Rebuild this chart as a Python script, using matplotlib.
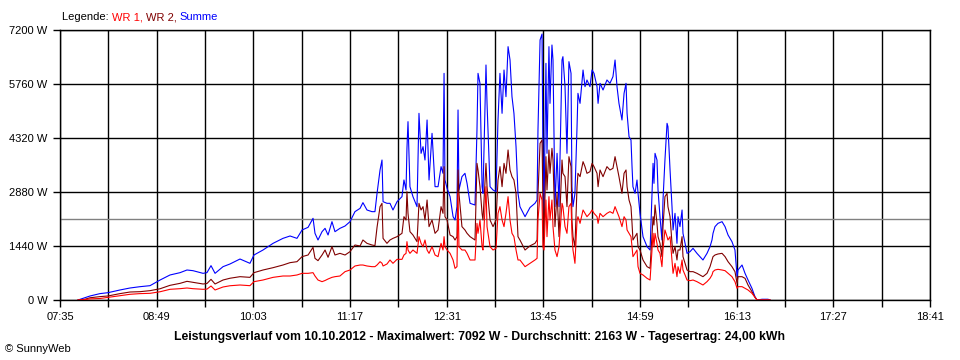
import matplotlib
matplotlib.use("Agg")
import matplotlib.pyplot as plt

plt.rcParams["font.family"] = ["Liberation Sans", "DejaVu Sans"]

# Zeitpunkte (Minuten seit Mitternacht) und Leistung in W
minutes = [
    468.8, 474.1, 478.0, 485.6, 491.7, 500.9, 508.6, 516.2, 523.9, 531.6,
    539.2, 546.9, 552.2, 556.8, 564.5, 567.5, 570.6, 573.7, 579.8, 585.1,
    592.8, 600.4, 603.5, 610.4, 618.1, 625.7, 631.1, 636.4, 640.3, 644.9,
    648.7, 650.2, 652.5, 655.6, 657.9, 660.2, 663.2, 665.5, 669.3, 673.2,
    677.0, 680.8, 684.7, 686.9, 690.0, 693.8, 696.1, 697.7, 700.0, 701.5,
    702.3, 705.3, 707.6, 709.9, 713.0, 716.8, 718.3, 719.9, 720.6, 721.4,
    722.9, 725.2, 728.3, 729.8, 731.4, 732.9, 734.4, 736.0, 737.5, 739.8,
    742.1, 744.4, 746.7, 748.2, 749.0, 749.7, 751.3, 753.6, 755.9, 757.4,
    758.9, 759.7, 760.4, 762.7, 765.0, 766.6, 768.9, 772.7, 774.2, 775.0,
    776.5, 778.1, 778.8, 781.1, 781.9, 784.2, 786.5, 788.8, 790.3, 791.8,
    793.4, 794.9, 796.4, 798.0, 799.5, 801.0, 802.5, 804.1, 805.6, 807.1,
    811.0, 814.8, 818.6, 820.2, 820.9, 822.5, 824.0, 824.7, 825.5, 827.0,
    827.8, 829.3, 830.1, 831.6, 832.4, 833.9, 835.5, 837.0, 839.3, 840.0,
    841.6, 843.1, 844.6, 846.2, 846.9, 847.7, 849.2, 850.8, 851.5, 853.1,
    855.4, 856.9, 858.4, 860.7, 862.3, 863.8, 866.1, 866.9, 868.4, 870.7,
    873.7, 876.0, 878.3, 879.9, 881.4, 882.9, 885.2, 886.8, 888.3, 889.1,
    890.6, 892.1, 892.9, 893.6, 895.2, 896.7, 897.5, 899.0, 901.3, 904.4,
    906.7, 909.0, 909.7, 910.5, 912.0, 912.8, 914.3, 915.8, 916.6, 918.1,
    919.7, 920.4, 922.0, 923.5, 924.3, 925.8, 927.3, 928.1, 929.6, 931.2,
    931.9, 933.5, 935.0, 937.3, 939.6, 942.6, 944.9, 947.2, 950.3, 952.6,
    954.1, 954.9, 956.4, 958.7, 961.8, 964.1, 966.4, 969.4, 971.7, 973.3,
    974.0, 977.1, 979.4, 981.7, 984.7, 987.0, 988.6, 992.4, 997.0, 998.5,
]
summe = [
    0, 60, 107, 170, 195, 267, 320, 355, 382, 533,
    667, 729, 800, 782, 711, 730, 916, 711, 889, 960,
    1093, 978, 1200, 1333, 1511, 1644, 1707, 1644, 1867, 1938,
    2178, 1778, 1600, 1822, 1911, 1733, 2089, 1822, 1911, 1973,
    2089, 2356, 2444, 2596, 2400, 2356, 2356, 2844, 3467, 3733,
    2622, 2578, 2578, 2400, 2622, 2756, 3200, 2933, 4044, 4756,
    3022, 2756, 2489, 4978, 3911, 4089, 3733, 4800, 3200, 4444,
    3022, 3022, 3556, 3378, 6044, 3200, 2978, 2756, 2222, 2133,
    2489, 5067, 2933, 3289, 3378, 3111, 2578, 2533, 4533, 6044,
    5778, 3022, 2844, 6267, 5244, 3022, 2933, 2889, 4800, 6044,
    4978, 6133, 5422, 6756, 6400, 5422, 4978, 4089, 2844, 2489,
    2222, 2467, 2578, 2667, 4533, 6933, 7092, 3911, 2311, 6311,
    3911, 6756, 5244, 6800, 6400, 2489, 3911, 2489, 6400, 6489,
    5689, 3911, 6356, 6044, 3022, 2489, 2844, 4622, 5511, 5244,
    6133, 5689, 5867, 5689, 6133, 6044, 5689, 5244, 5778, 5600,
    5867, 5778, 5956, 6400, 5689, 5244, 4800, 5511, 5778, 4978,
    4356, 4267, 3556, 3022, 2844, 3200, 2844, 2311, 1689, 1422,
    1333, 3644, 3111, 3911, 3733, 2933, 2222, 1600, 2667, 3733,
    4711, 4622, 3467, 2489, 1867, 2311, 1511, 2222, 1956, 2400,
    1778, 1511, 1244, 1289, 1378, 1244, 1156, 1067, 1244, 1422,
    1600, 1778, 1956, 2044, 2089, 1956, 1733, 1556, 1333, 622,
    800, 933, 711, 533, 311, 89, 0, 20, 20, 0,
]
wr2 = [
    0, 20, 60, 90, 107, 170, 213, 222, 249, 300,
    391, 444, 498, 471, 427, 440, 551, 427, 533, 580,
    622, 604, 729, 800, 862, 933, 996, 1022, 1156, 1200,
    1404, 1111, 1049, 1200, 1333, 1138, 1422, 1200, 1244, 1200,
    1289, 1467, 1440, 1600, 1511, 1467, 1450, 1938, 2489, 2578,
    1644, 1511, 1600, 1644, 1689, 1778, 2222, 2133, 2889, 2311,
    1822, 1733, 1556, 2578, 2400, 2489, 2133, 2667, 1956, 2133,
    1778, 1867, 2489, 2311, 3556, 2222, 2133, 1733, 1689, 1600,
    1689, 3467, 2844, 1956, 1867, 1778, 1689, 1600, 3644, 3467,
    3022, 2311, 2133, 3644, 3022, 2133, 1956, 2133, 3200, 3556,
    3022, 3644, 3378, 4000, 3467, 3289, 3200, 2844, 1689, 1600,
    1333, 1444, 1511, 1600, 2844, 4178, 4267, 2667, 1689, 3822,
    2933, 4000, 3378, 4044, 3733, 1956, 2844, 1689, 3733, 3378,
    3289, 2489, 3822, 3556, 2133, 1689, 1422, 3022, 3378, 3289,
    3689, 3556, 3378, 3422, 3644, 3556, 3378, 3022, 3467, 3289,
    3556, 3467, 3511, 3822, 3556, 3289, 2844, 3378, 3467, 3022,
    2667, 2489, 2044, 1600, 1689, 1778, 1422, 1333, 1067, 889,
    844, 2222, 2000, 2533, 2044, 1689, 1511, 1156, 1956, 2756,
    2844, 2489, 2222, 1511, 1244, 1422, 1067, 1333, 1333, 1689,
    1156, 978, 800, 756, 756, 711, 667, 622, 711, 889,
    1067, 1156, 1200, 1227, 1244, 1156, 1022, 889, 756, 444,
    622, 622, 578, 400, 222, 71, 0, 0, 0, 0,
]
wr1 = [
    0, 10, 30, 40, 70, 115, 152, 170, 178, 220,
    285, 302, 320, 302, 285, 290, 373, 267, 347, 380,
    400, 382, 489, 533, 604, 640, 640, 667, 711, 711,
    729, 640, 533, 489, 520, 560, 604, 622, 640, 756,
    800, 907, 933, 933, 907, 889, 889, 933, 1022, 980,
    907, 960, 1067, 978, 1084, 1084, 1200, 1244, 1556, 1333,
    1244, 1333, 1244, 1689, 1511, 1422, 1600, 1333, 1244, 1422,
    1200, 1156, 1511, 1333, 1689, 1422, 1333, 1244, 1067, 844,
    889, 2844, 1422, 1333, 1333, 1244, 1067, 1067, 2044, 1778,
    2133, 1422, 1333, 3022, 1956, 1422, 1333, 1378, 2311, 2489,
    2133, 1956, 2311, 2756, 2133, 1778, 1689, 1333, 1067, 1067,
    889, 978, 1067, 1111, 2133, 2844, 2667, 1422, 1333, 2667,
    1689, 2756, 2133, 2667, 1956, 1333, 1156, 1422, 2578, 2489,
    1956, 1778, 2489, 2578, 1778, 1333, 978, 2133, 2222, 2044,
    2400, 2311, 2222, 2311, 2400, 2311, 2222, 2044, 2311, 2222,
    2311, 2356, 2311, 2489, 2356, 2222, 1956, 2222, 2133, 1867,
    1778, 1689, 1422, 1156, 1244, 1333, 889, 711, 667, 578,
    533, 1778, 1422, 1778, 1511, 1333, 1244, 889, 1333, 1867,
    1689, 1600, 1689, 1067, 711, 978, 622, 889, 711, 1067,
    800, 667, 533, 516, 533, 489, 444, 400, 489, 578,
    667, 756, 800, 818, 800, 782, 711, 622, 489, 311,
    356, 356, 311, 267, 178, 71, 0, 0, 0, 0,
]

durchschnitt = 2163
maximalwert = 7092
tagesertrag = "24,00"
datum = "10.10.2012"

y_ticks = [0, 1440, 2880, 4320, 5760, 7200]
x_start, x_step = 455, 37   # 07:35, Raster alle 37 min
x_tick_labels = ["07:35", "", "08:49", "", "10:03", "", "11:17", "", "12:31", "",
                 "13:45", "", "14:59", "", "16:13", "", "17:27", "", "18:41"]

legend_parts = ["Legende: ", "WR 1, ", "WR 2, ", "Summe"]
legend_colors = ["black", "#ff0000", "#800000", "#0000ff"]

fig = plt.figure(figsize=(9.6, 3.6), dpi=100)
ax = fig.add_axes([60 / 960, 60 / 360, 870 / 960, 270 / 360])

x_ticks = [x_start + i * x_step for i in range(len(x_tick_labels))]
ax.set_xlim(x_ticks[0], x_ticks[-1])
ax.set_ylim(0, 7200)

for xt in x_ticks:
    ax.axvline(xt, color="black", lw=1, zorder=1)
for yt in y_ticks:
    ax.axhline(yt, color="black", lw=1, zorder=1)
ax.axhline(durchschnitt, color="#808080", lw=1, zorder=1)

ax.plot(minutes, summe, color="#0000ff", lw=0.8, zorder=2)
ax.plot(minutes, wr2, color="#800000", lw=0.8, zorder=3)
ax.plot(minutes, wr1, color="#ff0000", lw=0.8, zorder=4)

ax.set_xticks(x_ticks)
ax.set_xticklabels(x_tick_labels)
ax.set_yticks(y_ticks)
ax.set_yticklabels([f"{v} W" for v in y_ticks])
ax.tick_params(direction="out", length=5, width=1, color="black",
               labelsize=8, pad=4)
for sp in ax.spines.values():
    sp.set_linewidth(1)
    sp.set_color("black")

titel = (f"Leistungsverlauf vom {datum} - Maximalwert: {maximalwert} W - "
         f"Durchschnitt: {durchschnitt} W - Tagesertrag: {tagesertrag} kWh")
fig.text(0.5, 1 - 337 / 360, titel, ha="center", va="center",
         fontsize=8.8, fontweight="bold")
fig.text(5 / 960, 1 - 349 / 360, "© SunnyWeb", ha="left", va="center", fontsize=8)

# Legende oben links, Teile nebeneinander
fig.canvas.draw()
renderer = fig.canvas.get_renderer()
x0 = 62 / 960
for txt, col in zip(legend_parts, legend_colors):
    t = fig.text(x0, 1 - 17 / 360, txt, color=col, fontsize=8,
                 ha="left", va="center")
    bb = t.get_window_extent(renderer)
    x0 += bb.width / 960

fig.savefig("out.png", dpi=100)
